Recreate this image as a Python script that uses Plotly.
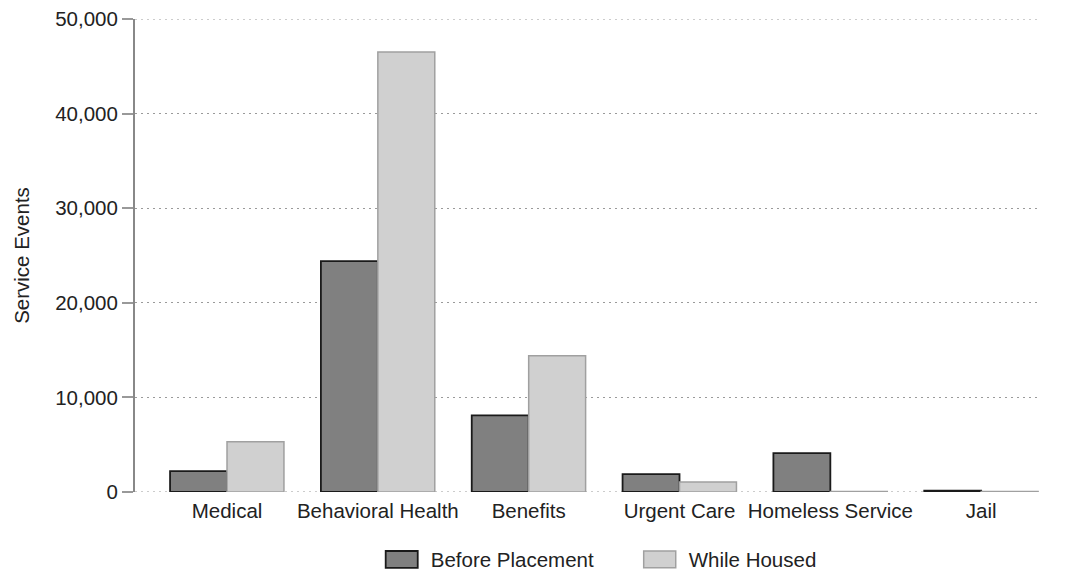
import plotly.graph_objects as go

categories = ["Medical", "Behavioral Health", "Benefits", "Urgent Care", "Homeless Service", "Jail"]
before_placement = [2200, 24400, 8100, 1900, 4100, 150]
while_housed = [5300, 46500, 14400, 1050, 60, 40]
y_ticks = [0, 10000, 20000, 30000, 40000, 50000]
y_tick_labels = ["0", "10,000", "20,000", "30,000", "40,000", "50,000"]

FS = 20.5
GRID_DASH = "2px,4px"
GRID_COLOR = "#9a9a9a"

fig = go.Figure()
fig.add_trace(go.Bar(
    x=categories, y=before_placement, name="Before Placement",
    marker=dict(color="#808080", line=dict(color="#1a1a1a", width=1.8)),
))
fig.add_trace(go.Bar(
    x=categories, y=while_housed, name="While Housed",
    marker=dict(color="#d0d0d0", line=dict(color="#a0a0a0", width=1.5)),
))

# dotted gridlines at the range edges (plotly skips them)
for yv in (y_ticks[0], y_ticks[-1]):
    fig.add_shape(type="line", xref="paper", yref="y", x0=0, x1=1, y0=yv, y1=yv,
                  line=dict(color=GRID_COLOR, width=1.2, dash=GRID_DASH), layer="below")

fig.update_layout(
    width=1069, height=571,
    margin=dict(l=135, r=29, t=19, b=79, autoexpand=False),
    paper_bgcolor="white", plot_bgcolor="white",
    barmode="group", bargap=0.245, bargroupgap=0,
    font=dict(family="Liberation Sans, Arial, sans-serif", size=FS, color="#222"),
    legend=dict(orientation="h", x=0.59, xanchor="center", xref="container",
                y=0.02, yanchor="middle", yref="container",
                font=dict(size=FS), itemwidth=48, entrywidth=195,
                traceorder="normal"),
    xaxis=dict(range=[-0.61, 5.39], showline=False, ticks="", showgrid=False,
               tickfont=dict(size=FS), automargin=False, ticklabelstandoff=4),
    yaxis=dict(range=[0, 50000], tickvals=y_ticks, ticktext=y_tick_labels,
               showgrid=True, gridcolor=GRID_COLOR, griddash=GRID_DASH, gridwidth=1.2,
               zeroline=False, showline=True, linecolor="#888", linewidth=2,
               ticks="outside", ticklen=11, tickcolor="#999", tickwidth=2,
               automargin=False,
               title=dict(text="Service Events", font=dict(size=FS), standoff=20),
               tickfont=dict(size=FS)),
)

post = """
document.body.style.margin='0';
(function(){
  function fix(){
    document.querySelectorAll('.legendpoints path').forEach(function(p){
      var t=(p.getAttribute('transform')||'').replace(/ ?scale\\([^)]*\\)/,'');
      p.setAttribute('transform', t+' scale(2.67,1.4)');
      p.style.vectorEffect='non-scaling-stroke';
    });
  }
  var gd=document.getElementById('{plot_id}');
  fix();
  if(gd && gd.on){gd.on('plotly_afterplot', fix);}
  setTimeout(fix, 50);
})();
"""

fig.write_html("out.html", config={"displayModeBar": False}, post_script=post)
